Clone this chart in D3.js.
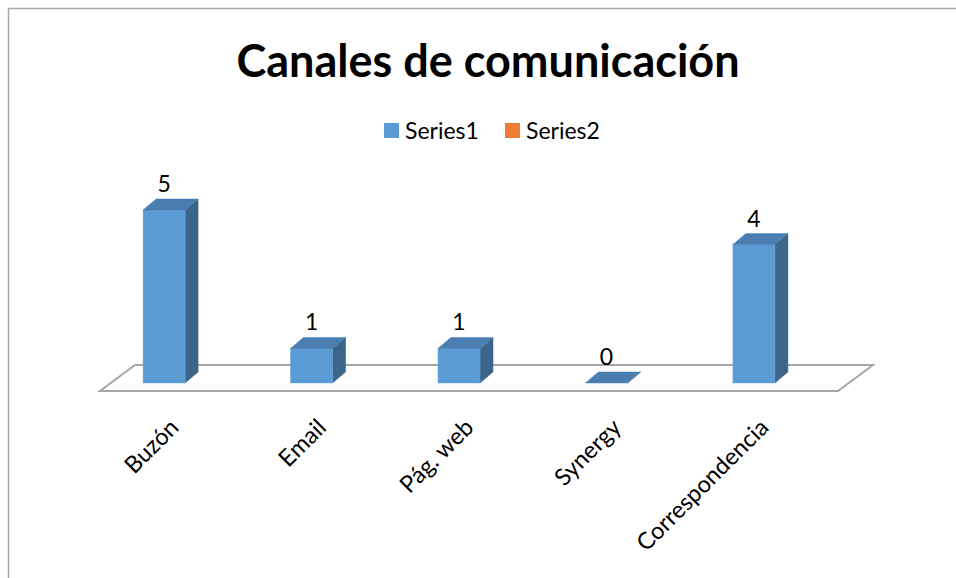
<!DOCTYPE html>
<html>
<head>
<meta charset="utf-8">
<script src="https://cdn.jsdelivr.net/npm/d3@7"></script>
<style>
  body { margin: 0; background: #fff; }
  text { font-family: Lato, "Open Sans", sans-serif; fill: #000; }
</style>
</head>
<body>
<script>
const categories = ["Buzón", "Email", "Pág. web", "Synergy", "Correspondencia"];
const series1 = [5, 1, 1, 0, 4];
const seriesNames = ["Series1", "Series2"];
const seriesColors = ["#5b9bd5", "#ed7d31"];

const width = 956, height = 578;
const base = 383;            // front bottom of bars
const depth = { dx: 13, dy: -11 };
const floor = { front: 391, back: 365, dx: 35 };

const svg = d3.select("body").append("svg")
  .attr("width", width)
  .attr("height", height);

// chart frame
svg.append("rect")
  .attr("x", 8.5).attr("y", 8.5)
  .attr("width", 1000).attr("height", 1000)
  .attr("fill", "none")
  .attr("stroke", "#a6a6a6")
  .attr("stroke-width", 1.5);

const x = d3.scaleBand()
  .domain(categories)
  .range([90, 828])
  .paddingInner(0.715)
  .paddingOuter(0.36);

const y = d3.scaleLinear().domain([0, 5]).range([base, 210]);

// floor
const fx0 = 100, fx1 = 838;
svg.append("path")
  .attr("d", `M${fx0},${floor.front} L${fx1},${floor.front} L${fx1 + floor.dx},${floor.back} L${fx0 + floor.dx},${floor.back} Z`)
  .attr("fill", "none")
  .attr("stroke", "#a6a6a6")
  .attr("stroke-width", 2);

const bars = svg.selectAll("g.bar")
  .data(categories.map((c, i) => ({ cat: c, v: series1[i] })))
  .enter().append("g").attr("class", "bar");

const bw = x.bandwidth();

// right side
bars.append("path")
  .attr("d", d => {
    const x1 = x(d.cat) + bw, yt = y(d.v);
    return `M${x1},${base} L${x1 + depth.dx},${base + depth.dy} L${x1 + depth.dx},${yt + depth.dy} L${x1},${yt} Z`;
  })
  .attr("fill", "#3b6589")
  .attr("stroke", "#3b6589").attr("stroke-width", 0.5);

// front
bars.filter(d => d.v > 0).append("rect")
  .attr("x", d => x(d.cat))
  .attr("y", d => y(d.v))
  .attr("width", bw)
  .attr("height", d => base - y(d.v))
  .attr("fill", seriesColors[0])
  .attr("stroke", "#6ea8dc").attr("stroke-width", 0.5);

// top
bars.append("path")
  .attr("d", d => {
    const x0 = x(d.cat), yt = y(d.v);
    return `M${x0},${yt} L${x0 + bw},${yt} L${x0 + bw + depth.dx},${yt + depth.dy} L${x0 + depth.dx},${yt + depth.dy} Z`;
  })
  .attr("fill", "#4a7db0")
  .attr("stroke", "#4a7db0").attr("stroke-width", 0.5);

// value labels
bars.append("text")
  .attr("x", d => x(d.cat) + bw / 2)
  .attr("y", d => y(d.v) + depth.dy - 7)
  .attr("text-anchor", "middle")
  .style("font-size", "23px")
  .text(d => d.v);

// category labels
svg.selectAll("text.cat")
  .data(categories)
  .enter().append("text")
  .attr("class", "cat")
  .attr("text-anchor", "end")
  .attr("transform", d => `translate(${x(d) + bw / 2 + 16}, 429) rotate(-45)`)
  .style("font-size", "23.5px")
  .text(d => d);

// title
svg.append("text")
  .attr("x", 488).attr("y", 77)
  .attr("text-anchor", "middle")
  .style("font-size", "45px")
  .style("font-weight", "bold")
  .text("Canales de comunicación");

// legend
const legend = svg.selectAll("g.legend")
  .data(seriesNames)
  .enter().append("g")
  .attr("class", "legend")
  .attr("transform", (d, i) => `translate(${384 + i * 121}, 123)`);

legend.append("rect")
  .attr("width", 15).attr("height", 15)
  .attr("fill", (d, i) => seriesColors[i]);

legend.append("text")
  .attr("x", 21).attr("y", 16)
  .style("font-size", "23px")
  .text(d => d);
</script>
</body>
</html>
